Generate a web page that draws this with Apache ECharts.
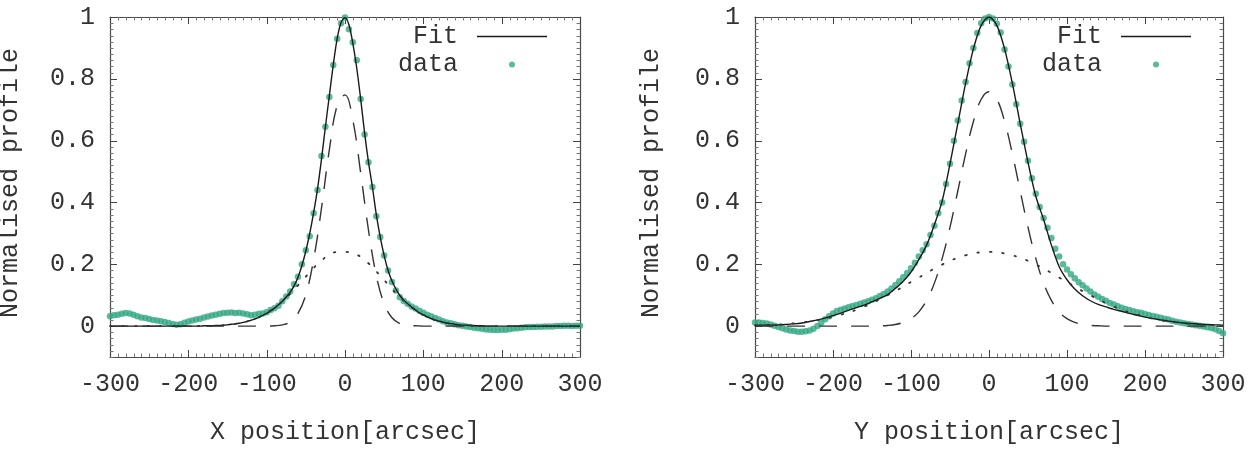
<!DOCTYPE html>
<html>
<head>
<meta charset="utf-8">
<script src="https://cdn.jsdelivr.net/npm/echarts@6/dist/echarts.min.js"></script>
<style>
  html, body { margin: 0; padding: 0; background: #fff; }
  #chart { width: 1251px; height: 453px; }
</style>
</head>
<body>
<div id="chart"></div>
<script>
// sample positions [arcsec]
var pos5 = [-300,-295,-290,-285,-280,-275,-270,-265,-260,-255,-250,-245,-240,-235,-230,-225,-220,-215,-210,-205,
  -200,-195,-190,-185,-180,-175,-170,-165,-160,-155,-150,-145,-140,-135,-130,-125,-120,-115,-110,-105,
  -100,-95,-90,-85,-80,-75,-70,-65,-60,-55,-50,-45,-40,-35,-30,-25,-20,-15,-10,-5,
  0,5,10,15,20,25,30,35,40,45,50,55,60,65,70,75,80,85,90,95,
  100,105,110,115,120,125,130,135,140,145,150,155,160,165,170,175,180,185,190,195,
  200,205,210,215,220,225,230,235,240,245,250,255,260,265,270,275,280,285,290,295,300];
var pos10 = [-300,-290,-280,-270,-260,-250,-240,-230,-220,-210,-200,-190,-180,-170,-160,-150,-140,-130,-120,-110,
  -100,-90,-80,-70,-60,-50,-40,-30,-20,-10,0,10,20,30,40,50,60,70,80,90,
  100,110,120,130,140,150,160,170,180,190,200,210,220,230,240,250,260,270,280,290,300];

// X profile (left panel)
var xData = [0.032,0.035,0.037,0.040,0.042,0.041,0.037,0.032,0.028,0.026,0.023,0.020,0.018,0.016,0.013,0.010,0.007,0.004,0.006,0.011,
  0.015,0.018,0.021,0.024,0.028,0.031,0.034,0.037,0.040,0.042,0.043,0.044,0.042,0.043,0.041,0.038,0.035,0.037,0.040,0.041,
  0.045,0.052,0.058,0.066,0.080,0.096,0.112,0.135,0.160,0.200,0.245,0.291,0.365,0.440,0.550,0.645,0.741,0.845,0.930,0.980,
  0.998,0.960,0.918,0.860,0.735,0.620,0.530,0.450,0.355,0.288,0.228,0.180,0.143,0.115,0.093,0.081,0.072,0.063,0.057,0.050,
  0.043,0.037,0.032,0.026,0.021,0.016,0.012,0.009,0.006,0.003,0.001,-0.001,-0.003,-0.005,-0.007,-0.009,-0.011,-0.012,-0.013,-0.013,
  -0.012,-0.012,-0.010,-0.008,-0.007,-0.005,-0.004,-0.003,-0.003,-0.002,-0.002,-0.001,-0.001,-0.001,0.000,0.000,0.001,0.001,0.000,0.001,0.001];
var xFit = [0,0,0,0,0,0,0,0,0,0,0,0,0,0,0,0,0,0,0,0,
  0,0,0,0,0.001,0.001,0.001,0.002,0.002,0.003,0.004,0.006,0.007,0.009,0.012,0.015,0.019,0.023,0.028,0.035,
  0.041,0.049,0.058,0.069,0.080,0.094,0.110,0.130,0.158,0.196,0.243,0.300,0.368,0.445,0.540,0.645,0.745,0.845,0.930,0.982,
  0.998,0.975,0.915,0.835,0.735,0.625,0.530,0.450,0.360,0.288,0.228,0.180,0.146,0.120,0.099,0.084,0.072,0.062,0.052,0.043,
  0.036,0.030,0.024,0.020,0.016,0.013,0.010,0.008,0.006,0.004,0.003,0.003,0.002,0.001,0.001,0.001,0,0,0,0,
  0,0,0,0,0,0,0,0,0,0,0,0,0,0,0,0,0,0,0,0,0];
var xNarrow = [0,0,0,0,0,0,0,0,0,0,0,0,0,0,0,0,0,0,0,0,
  0.000,0.001,0.004,0.014,0.041,0.102,0.216,0.382,0.570,0.714,0.748,0.666,0.496,0.310,0.163,0.072,0.027,0.008,0.002,0.001,
  0,0,0,0,0,0,0,0,0,0,0,0,0,0,0,0,0,0,0,0,0];
var xBroad = [0,0,0,0,0,0,0,0,0,0,0,0,0.001,0.001,0.002,0.004,0.007,0.012,0.019,0.028,
  0.042,0.059,0.080,0.104,0.132,0.160,0.188,0.212,0.231,0.240,0.240,0.236,0.224,0.203,0.177,0.149,0.120,0.094,0.071,0.051,
  0.036,0.024,0.016,0.010,0.006,0.003,0.002,0.001,0,0,0,0,0,0,0,0,0,0,0,0,0];

// Y profile (right panel)
var yData = [0.012,0.012,0.010,0.008,0.005,0.001,-0.003,-0.007,-0.011,-0.014,-0.016,-0.018,-0.018,-0.017,-0.014,-0.009,0.000,0.011,0.022,0.032,
  0.041,0.049,0.053,0.057,0.061,0.065,0.068,0.072,0.076,0.080,0.085,0.090,0.097,0.104,0.112,0.122,0.133,0.145,0.158,0.172,
  0.187,0.205,0.225,0.245,0.265,0.295,0.325,0.365,0.400,0.460,0.525,0.600,0.665,0.730,0.790,0.850,0.900,0.948,0.980,0.995,
  1.000,0.995,0.978,0.950,0.895,0.840,0.782,0.718,0.655,0.596,0.535,0.478,0.428,0.385,0.350,0.318,0.285,0.250,0.225,0.200,
  0.183,0.168,0.155,0.142,0.132,0.122,0.112,0.102,0.095,0.088,0.082,0.075,0.070,0.064,0.059,0.055,0.052,0.048,0.045,0.043,
  0.039,0.036,0.033,0.030,0.027,0.024,0.021,0.017,0.014,0.012,0.009,0.007,0.005,0.003,0.001,-0.001,-0.004,-0.006,-0.010,-0.016,-0.023];
var yFit = [0.003,0.003,0.003,0.004,0.005,0.007,0.010,0.015,0.020,0.026,0.034,0.042,0.051,0.060,0.068,0.079,0.090,0.102,0.122,0.145,
  0.175,0.215,0.262,0.328,0.405,0.525,0.655,0.785,0.897,0.973,1.000,0.973,0.897,0.785,0.655,0.530,0.420,0.345,0.262,0.192,
  0.150,0.120,0.098,0.082,0.070,0.062,0.054,0.048,0.041,0.035,0.029,0.024,0.020,0.016,0.013,0.010,0.008,0.006,0.005,0.004,0.003];
var yNarrow = [0,0,0,0,0,0,0,0,0,0,0,0,0,0,0,0,0.001,0.002,0.005,0.012,
  0.024,0.046,0.083,0.139,0.219,0.320,0.437,0.557,0.662,0.734,0.758,0.734,0.662,0.557,0.437,0.320,0.219,0.139,0.083,0.046,
  0.024,0.012,0.005,0.002,0.001,0,0,0,0,0,0,0,0,0,0,0,0,0,0,0,0];
var yBroad = [0.002,0.003,0.004,0.005,0.007,0.009,0.012,0.015,0.019,0.024,0.030,0.037,0.044,0.053,0.063,0.074,0.087,0.100,0.113,0.128,
  0.143,0.157,0.172,0.186,0.199,0.211,0.221,0.229,0.235,0.239,0.240,0.239,0.235,0.229,0.221,0.211,0.199,0.186,0.172,0.157,
  0.143,0.128,0.113,0.100,0.087,0.074,0.063,0.053,0.044,0.037,0.030,0.024,0.019,0.015,0.012,0.009,0.007,0.005,0.004,0.003,0.002];

// tick positions for the frame (major / minor)
var xMajorTicks = [-300,-200,-100,0,100,200,300];
var xMinorTicks = pos10;
var yMajorTicks = [0,0.2,0.4,0.6,0.8,1];
var yMinorTicks = [-0.1,-0.08,-0.06,-0.04,-0.02,0,0.02,0.04,0.06,0.08,0.1,0.12,0.14,0.16,0.18,0.2,0.22,0.24,0.26,0.28,
  0.3,0.32,0.34,0.36,0.38,0.4,0.42,0.44,0.46,0.48,0.5,0.52,0.54,0.56,0.58,0.6,0.62,0.64,0.66,0.68,
  0.7,0.72,0.74,0.76,0.78,0.8,0.82,0.84,0.86,0.88,0.9,0.92,0.94,0.96,0.98,1];

var FONT = 'Liberation Mono';
var FS = 25;
var GREEN = '#33a883';
var INK = '#333';
var FRAME = '#4a4a4a';

function pairs(xs, ys) {
  var out = [];
  for (var i = 0; i < xs.length; i++) out.push([xs[i], ys[i]]);
  return out;
}

function xAxisFor(gi, pos, withLabels) {
  return {
    type: 'value', gridIndex: gi, position: pos,
    min: -300, max: 300, interval: 100,
    axisLine: { show: true, onZero: false, lineStyle: { color: FRAME, width: 1.2 } },
    axisTick: { show: false },
    minorTick: { show: false },
    axisLabel: { show: withLabels, margin: 15, fontFamily: FONT, fontSize: FS, color: INK },
    splitLine: { show: false }
  };
}

function yAxisFor(gi, pos, withLabels) {
  return {
    type: 'value', gridIndex: gi, position: pos,
    min: -0.1, max: 1, interval: 0.1,
    axisLine: { show: true, onZero: false, lineStyle: { color: FRAME, width: 1.2 } },
    axisTick: { show: false },
    minorTick: { show: false },
    axisLabel: {
      show: withLabels, margin: 15, fontFamily: FONT, fontSize: FS, color: INK,
      formatter: function (v) {
        var k = Math.round(v * 10);
        if (k < 0 || k % 2 !== 0) return '';
        return String(k / 10);
      }
    },
    splitLine: { show: false }
  };
}

// inward ticks on both opposite sides of the frame, placed through the axes' own scale
function tickSeries(gi, ticks, dir, len, color) {
  return {
    type: 'custom', name: 'tick', xAxisIndex: gi * 2, yAxisIndex: gi * 2,
    silent: true, clip: false, z: 1,
    data: ticks.map(function (t) { return dir === 'x' ? [t, 0] : [0, t]; }),
    renderItem: function (params, api) {
      var style = { stroke: color, lineWidth: 1 };
      var a, b, p;
      if (dir === 'x') {
        var xv = api.value(0);
        a = api.coord([xv, 1]);
        b = api.coord([xv, -0.1]);
        p = Math.round(a[0]) + 0.5;
        return { type: 'group', children: [
          { type: 'line', shape: { x1: p, y1: a[1], x2: p, y2: a[1] + len }, style: style },
          { type: 'line', shape: { x1: p, y1: b[1], x2: p, y2: b[1] - len }, style: style }
        ] };
      }
      var yv = api.value(1);
      a = api.coord([-300, yv]);
      b = api.coord([300, yv]);
      p = Math.round(a[1]) + 0.5;
      return { type: 'group', children: [
        { type: 'line', shape: { x1: a[0], y1: p, x2: a[0] + len, y2: p }, style: style },
        { type: 'line', shape: { x1: b[0], y1: p, x2: b[0] - len, y2: p }, style: style }
      ] };
    }
  };
}

function panelSeries(gi, dat, fitXs, fit, narrow, broad) {
  var xi = gi * 2, yi = gi * 2;
  return [
    tickSeries(gi, xMinorTicks, 'x', 3.5, '#777'),
    tickSeries(gi, xMajorTicks, 'x', 7, '#444'),
    tickSeries(gi, yMinorTicks, 'y', 3.5, '#777'),
    tickSeries(gi, yMajorTicks, 'y', 7, '#444'),
    { name: 'Fit', type: 'line', xAxisIndex: xi, yAxisIndex: yi, data: pairs(fitXs, fit),
      smooth: 0.3, symbol: 'none', showSymbol: false, lineStyle: { color: '#1a1a1a', width: 1.4 }, itemStyle: { color: '#1a1a1a' } },
    { name: 'narrow', type: 'line', xAxisIndex: xi, yAxisIndex: yi, data: pairs(pos10, narrow),
      smooth: 0.4, symbol: 'none', lineStyle: { color: '#333', width: 1.4, type: [18, 14] } },
    { name: 'broad', type: 'line', xAxisIndex: xi, yAxisIndex: yi, data: pairs(pos10, broad),
      smooth: 0.4, symbol: 'none', lineStyle: { color: '#333', width: 1.8, type: [1.5, 11], cap: 'round' } },
    { name: 'data', type: 'scatter', xAxisIndex: xi, yAxisIndex: yi, data: pairs(pos5, dat),
      symbol: 'circle', symbolSize: 6.5, itemStyle: { color: GREEN } },
    // empty series so the top and right frame axes are in use
    { name: 'frame', type: 'line', xAxisIndex: xi + 1, yAxisIndex: yi + 1, data: [], silent: true }
  ];
}

function legendFor(rightPx, topPx, name, icon, h) {
  return {
    orient: 'vertical', align: 'right', right: rightPx, top: topPx, padding: 0,
    itemWidth: 70, itemHeight: h, selectedMode: false,
    data: [{ name: name, icon: icon }],
    textStyle: { fontFamily: FONT, fontSize: FS, color: INK, padding: [0, 14, 0, 0] }
  };
}

function axisTitle(text, x, y, rot) {
  return {
    type: 'text', x: x, y: y, rotation: rot, silent: true,
    style: { text: text, fontFamily: FONT, fontSize: FS, fill: INK, align: 'center', verticalAlign: 'middle' }
  };
}

var chart = echarts.init(document.getElementById('chart'), null, { renderer: 'canvas' });
chart.setOption({
  animation: false,
  grid: [
    { left: 110, top: 17, width: 470, height: 340 },
    { left: 755, top: 17, width: 468, height: 340 }
  ],
  xAxis: [
    xAxisFor(0, 'bottom', true),
    xAxisFor(0, 'top', false),
    xAxisFor(1, 'bottom', true),
    xAxisFor(1, 'top', false)
  ],
  yAxis: [
    yAxisFor(0, 'left', true),
    yAxisFor(0, 'right', false),
    yAxisFor(1, 'left', true),
    yAxisFor(1, 'right', false)
  ],
  legend: [
    legendFor(704, 24, 'Fit', 'rect', 1.5),
    legendFor(736, 52, 'data', 'circle', 6),
    legendFor(60, 24, 'Fit', 'rect', 1.5),
    legendFor(92, 52, 'data', 'circle', 6)
  ],
  graphic: [
    axisTitle('X position[arcsec]', 345, 432, 0),
    axisTitle('Y position[arcsec]', 989, 432, 0),
    axisTitle('Normalised profile', 10, 183, Math.PI / 2),
    axisTitle('Normalised profile', 651, 183, Math.PI / 2)
  ],
  series: [].concat(
    panelSeries(0, xData, pos5, xFit, xNarrow, xBroad),
    panelSeries(1, yData, pos10, yFit, yNarrow, yBroad)
  )
});
</script>
</body>
</html>
